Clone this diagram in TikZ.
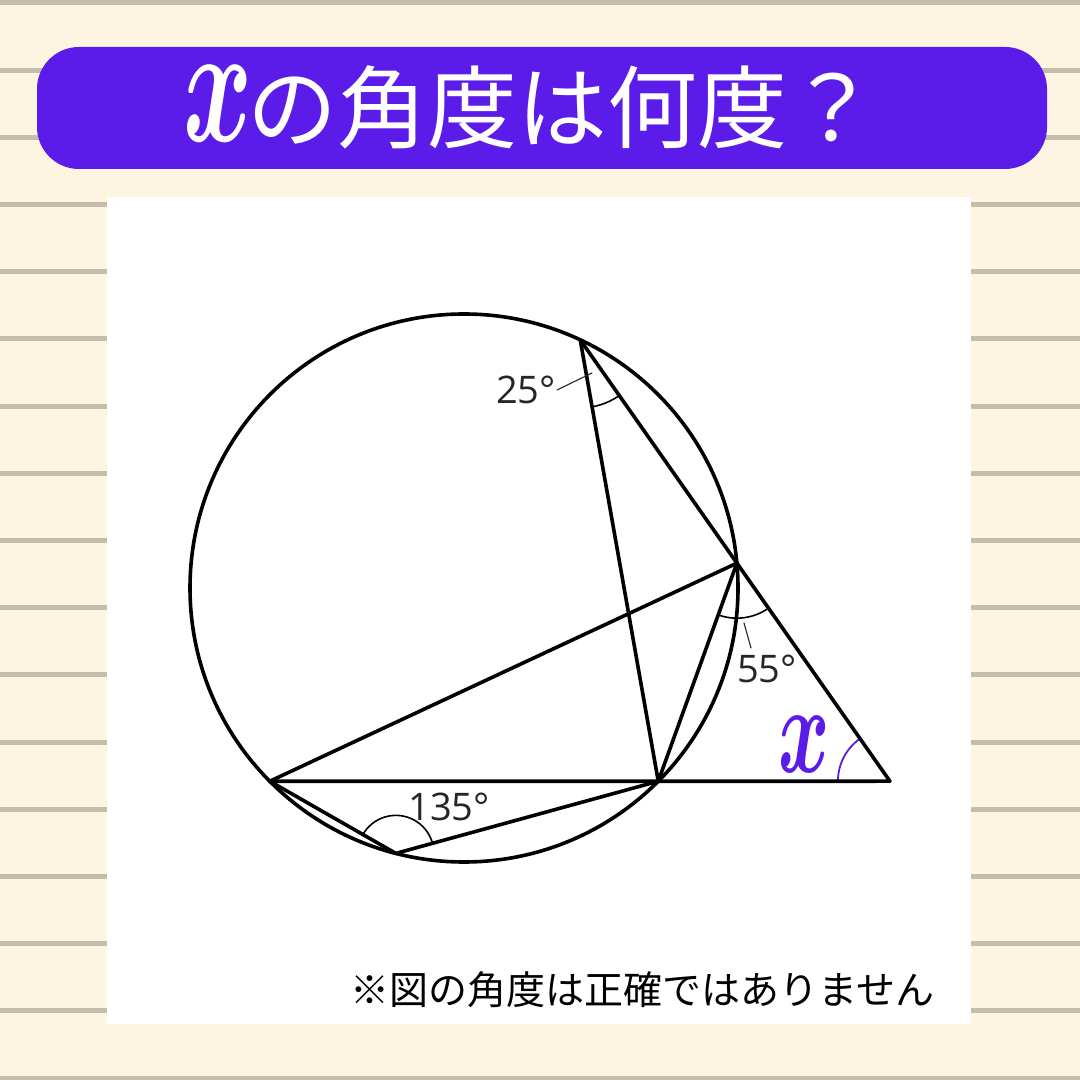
\documentclass[tikz,border=0pt]{standalone}
\usepackage{bm}
\usepackage{fontspec}
\setmainfont{Open Sans}
\newfontfamily\jpfont{Noto Sans CJK JP}
\usetikzlibrary{angles}
\definecolor{bg}{HTML}{FDF4E1}
\definecolor{rulec}{HTML}{C5BDA9}
\definecolor{ttl}{HTML}{5B1BE8}
\definecolor{lblc}{HTML}{262626}
\begin{document}
\begin{tikzpicture}[x=1pt,y=1pt,line join=round,line cap=round,
  geo/.style={line width=3.6pt,draw=black},
  angmark/.style={draw=black,line width=1.6pt},
  leader/.style={draw=lblc,line width=1.1pt},
  deglbl/.style={text=lblc,inner sep=0pt,font=\fontsize{38}{40}\selectfont},
  xlbl/.style={text=ttl,inner sep=0pt}]
\useasboundingbox (0,0) rectangle (1080,1080);
\fill[bg] (0,0) rectangle (1080,1080);
\foreach \k in {0,...,16}
  \fill[rulec] (0,{1077-67.2*\k-2.5}) rectangle (1080,{1077-67.2*\k+2.5});
% title bar
\fill[ttl,rounded corners=42pt] (37,911) rectangle (1047,1033);
\node[xlbl,text=white] (tx) at (218,976) {\scalebox{10.5}[17]{\normalsize$\bm{x}$}};
\node[anchor=base west,inner sep=0pt,text=white,font=\jpfont\fontsize{90}{90}\selectfont] (title) at (247,938) {の角度は何度？};
% panel
\fill[white] (107,56) rectangle (971,883);
% geometry
\coordinate (O) at (464,492);
\coordinate (A) at ([shift={(464,492)}]64.9:274);
\coordinate (B) at ([shift={(464,492)}]5.2:274);
\coordinate (C) at ([shift={(464,492)}]-44.85:274);
\coordinate (D) at ([shift={(464,492)}]-135.15:274);
\coordinate (E) at ([shift={(464,492)}]-104.4:274);
\coordinate (F) at (intersection of A--B and D--C);
% angle marks
\pic[angmark,angle radius=68pt] {angle=C--A--B};
\pic[angmark,angle radius=55pt] {angle=C--B--F};
\pic[angmark,angle radius=38pt] {angle=C--E--D};
\pic[draw=ttl,line width=1.8pt,angle radius=52pt] {angle=A--F--D};
\draw[geo] (O) circle (274);
\draw[geo] (A) -- (C);
\draw[geo] (A) -- (F);
\draw[geo] (D) -- (B);
\draw[geo] (D) -- (F);
\draw[geo] (D) -- (E) -- (C);
\draw[geo] (B) -- (C);
% labels
\node[deglbl] (l25) at (526,690) {25°};
\coordinate (l25a) at (557,690);
\coordinate (l25b) at (592,707);
\draw[leader] (l25a) -- (l25b);
\node[deglbl] (l55) at (767,411) {55°};
\coordinate (l55a) at (744,457);
\coordinate (l55b) at (751,432);
\draw[leader] (l55a) -- (l55b);
\node[deglbl] (l135) at (449,273) {135°};
\node[xlbl] (xa) at (804,335) {\scalebox{7.8}[12.6]{\normalsize$\bm{x}$}};
% footnote
\node[anchor=base west,inner sep=0pt,text=black,font=\jpfont\fontsize{39}{39}\selectfont] (note) at (350,75) {※図の角度は正確ではありません};
\end{tikzpicture}
\end{document}
